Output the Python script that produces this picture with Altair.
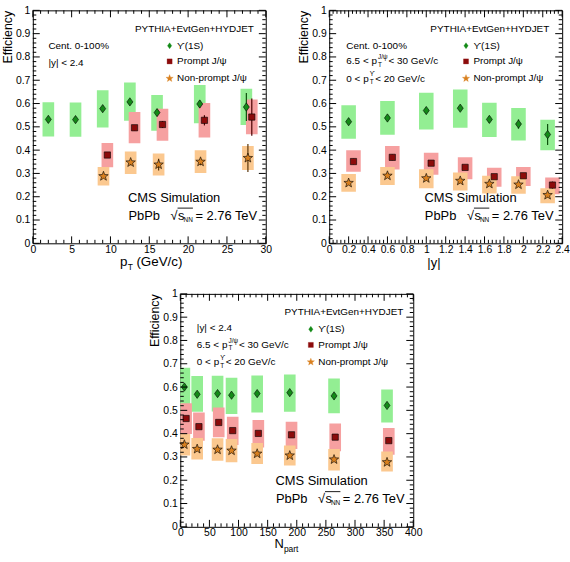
import altair as alt
import pandas as pd

FONT = "Liberation Sans"
W, H = 235, 235

# ---------------- efficiency vs pT ----------------
pt_ups_x    = [2.0, 5.5, 9.0, 12.5, 16.0, 21.5, 27.5]
pt_ups_eff  = [0.532, 0.531, 0.578, 0.607, 0.561, 0.598, 0.585]
pt_ups_stat = [0.008, 0.008, 0.010, 0.012, 0.015, 0.015, 0.060]
pt_ups_lo   = [0.458, 0.457, 0.497, 0.526, 0.483, 0.515, 0.508]
pt_ups_hi   = [0.606, 0.604, 0.657, 0.690, 0.637, 0.680, 0.664]

pt_pr_x     = [9.6, 13.1, 16.7, 22.1, 28.2]
pt_pr_eff   = [0.379, 0.496, 0.510, 0.528, 0.542]
pt_pr_stat  = [0.008, 0.012, 0.015, 0.022, 0.080]
pt_pr_lo    = [0.326, 0.429, 0.440, 0.454, 0.468]
pt_pr_hi    = [0.431, 0.564, 0.578, 0.602, 0.617]

pt_np_x     = [9.1, 12.6, 16.2, 21.6, 27.7]
pt_np_eff   = [0.288, 0.347, 0.338, 0.350, 0.366]
pt_np_stat  = [0.008, 0.012, 0.025, 0.015, 0.060]
pt_np_lo    = [0.248, 0.298, 0.291, 0.302, 0.315]
pt_np_hi    = [0.328, 0.394, 0.386, 0.399, 0.418]

# ---------------- efficiency vs |y| ----------------
y_ups_x    = [0.2, 0.6, 1.0, 1.35, 1.65, 1.95, 2.25]
y_ups_eff  = [0.522, 0.538, 0.570, 0.580, 0.532, 0.512, 0.467]
y_ups_stat = [0.010, 0.010, 0.012, 0.012, 0.015, 0.020, 0.045]
y_ups_lo   = [0.449, 0.466, 0.489, 0.496, 0.456, 0.441, 0.399]
y_ups_hi   = [0.593, 0.611, 0.646, 0.660, 0.603, 0.581, 0.530]

y_pr_x     = [0.25, 0.65, 1.05, 1.4, 1.7, 2.0, 2.3]
y_pr_eff   = [0.351, 0.369, 0.344, 0.326, 0.286, 0.290, 0.250]
y_pr_stat  = [0.012, 0.012, 0.010, 0.010, 0.008, 0.008, 0.015]
y_pr_lo    = [0.307, 0.317, 0.294, 0.275, 0.243, 0.246, 0.211]
y_pr_hi    = [0.399, 0.418, 0.389, 0.369, 0.324, 0.328, 0.283]

y_np_x     = [0.2, 0.6, 1.0, 1.35, 1.65, 1.95, 2.25]
y_np_eff   = [0.259, 0.290, 0.279, 0.268, 0.255, 0.252, 0.207]
y_np_stat  = [0.008, 0.008, 0.008, 0.008, 0.008, 0.008, 0.010]
y_np_lo    = [0.221, 0.250, 0.236, 0.227, 0.214, 0.213, 0.172]
y_np_hi    = [0.297, 0.328, 0.318, 0.304, 0.290, 0.288, 0.236]

# ---------------- efficiency vs Npart ----------------
np_ups_x    = [7, 29, 64, 88, 132, 188, 264, 355]
np_ups_eff  = [0.600, 0.569, 0.572, 0.565, 0.572, 0.576, 0.562, 0.521]
np_ups_stat = [0.008, 0.006, 0.006, 0.006, 0.006, 0.006, 0.006, 0.008]
np_ups_lo   = [0.486, 0.494, 0.495, 0.484, 0.491, 0.494, 0.488, 0.448]
np_ups_hi   = [0.683, 0.647, 0.649, 0.640, 0.650, 0.654, 0.637, 0.590]

np_pr_x     = [10, 32, 66, 90, 134, 191, 266, 358]
np_pr_eff   = [0.465, 0.430, 0.448, 0.413, 0.401, 0.395, 0.385, 0.370]
np_pr_stat  = [0.006] * 8
np_pr_lo    = [0.398, 0.370, 0.384, 0.351, 0.341, 0.334, 0.324, 0.309]
np_pr_hi    = [0.531, 0.491, 0.512, 0.472, 0.459, 0.451, 0.444, 0.424]

np_np_x     = [7, 29, 64, 88, 132, 188, 264, 355]
np_np_eff   = [0.353, 0.334, 0.331, 0.327, 0.314, 0.306, 0.289, 0.277]
np_np_stat  = [0.006] * 8
np_np_lo    = [0.306, 0.289, 0.284, 0.277, 0.270, 0.263, 0.242, 0.238]
np_np_hi    = [0.398, 0.381, 0.380, 0.377, 0.360, 0.349, 0.334, 0.323]

y_major = [0, 0.1, 0.2, 0.3, 0.4, 0.5, 0.6, 0.7, 0.8, 0.9, 1.0]
y_minor = [round(i * 0.02, 2) for i in range(51) if i % 5]

pt_major = [0, 5, 10, 15, 20, 25, 30]
pt_minor = [i for i in range(31) if i % 5]
rap_major = [round(i * 0.2, 1) for i in range(13)]
rap_minor = [round(i * 0.04, 2) for i in range(61) if i % 5]
npart_major = [i * 50 for i in range(9)]
npart_minor = [i * 10 for i in range(41) if i % 5]

# marker glyphs (unit box -1..1)
DIAMOND = "M0,-1L0.72,0L0,1L-0.72,0Z"
SQUARE = "M-1,-1L1,-1L1,1L-1,1Z"
STAR = ("M0,-1L0.247,-0.34L0.951,-0.309L0.399,0.13L0.588,0.809L0,0.42"
        "L-0.588,0.809L-0.399,0.13L-0.951,-0.309L-0.247,-0.34Z")

STYLE = {
    "ups": dict(box="#93ee93", fill="#138a17", err="#0b4f0b", shape=DIAMOND, size=70, lsize=36),
    "pr":  dict(box="#f6a0a0", fill="#8c0b0b", err="#4a0000", shape=SQUARE, size=40, lsize=26),
    "np":  dict(box="#fbc88f", fill="#d9801f", err="#5a3408", shape=STAR, size=100, lsize=60),
}

# approximate Helvetica advance widths (per 1000 em)
AW = {" ": 278, ".": 278, "<": 584, "p": 556, "T": 611, "G": 778, "e": 556, "V": 667,
      "/": 278, "c": 500, "J": 500, "ψ": 700, "ϒ": 700, "(": 333, ")": 333, "N": 722,
      "a": 556, "r": 333, "t": 278}


def tw(s, size):
    return sum(AW.get(ch, 556) for ch in s) * size / 1000.0


def txt(s, x, y, size=10, align="left"):
    return alt.Chart(pd.DataFrame({"t": [s]})).mark_text(
        font=FONT, fontSize=size, align=align, baseline="middle", color="black"
    ).encode(x=alt.value(x), y=alt.value(y), text="t:N")


def pt_range(x, y, lo, sup, hi):
    base = f"{lo} < p"
    x1 = x + tw(base, 10) + 1.0
    x2 = x1 + max(tw("T", 6.5), tw(sup, 6.5)) + 1.0
    return [txt(base, x, y), txt("T", x1, y + 3.5, 6.5), txt(sup, x1, y - 4.5, 6.5),
            txt(f" < {hi} GeV/c", x2, y)]


def energy_label(x, y):
    rule_df = pd.DataFrame({"a": [0]})
    over = alt.Chart(rule_df).mark_rule(color="black", strokeWidth=0.9).encode(
        x=alt.value(x + 49.5), x2=alt.value(x + 65), y=alt.value(y - 7.5))
    return [txt("PbPb", x, y, 13), txt("√", x + 42.5, y, 13), txt("s", x + 50, y, 13),
            txt("NN", x + 55.5, y + 4, 6.5), over, txt("= 2.76 TeV", x + 67.5, y, 13)]


def series_frame(xs, eff, stat, lo, hi, half):
    return pd.DataFrame({
        "x": xs, "eff": eff, "lo": lo, "hi": hi,
        "x0": [v - half for v in xs], "x1": [v + half for v in xs],
        "e0": [e - s for e, s in zip(eff, stat)], "e1": [e + s for e, s in zip(eff, stat)],
    })


def panel(series, xdom, major, minor, half, legend_x, legend_right, notes, xtitle):
    xs = alt.Scale(domain=xdom, nice=False, zero=False)
    ys = alt.Scale(domain=[0, 1], nice=False, zero=False)
    xaxis = alt.Axis(values=major, format="~r", ticks=False, domain=False, grid=False,
                     labelFont=FONT, labelFontSize=10.5, labelPadding=1, labelColor="black",
                     labelFlush=False, title=None)
    yaxis = alt.Axis(values=y_major, format="~r", ticks=False, domain=False, grid=False,
                     labelFont=FONT, labelFontSize=10.5, labelPadding=3, labelColor="black",
                     labelFlush=False, title="Efficiency", titleFont=FONT, titleFontSize=12.5,
                     titleFontWeight="normal", titleAnchor="end", titlePadding=1,
                     titleColor="black")

    frames = [(key, series_frame(*vals, half)) for key, vals in series]
    layers = []
    # systematic boxes first
    for key, df in frames:
        layers.append(alt.Chart(df).mark_rect(color=STYLE[key]["box"], clip=True).encode(
            x=alt.X("x0:Q", scale=xs, axis=xaxis), x2="x1:Q",
            y=alt.Y("lo:Q", scale=ys, axis=yaxis), y2="hi:Q"))
    # statistical error bars
    for key, df in frames:
        layers.append(alt.Chart(df).mark_rule(color=STYLE[key]["err"], strokeWidth=1.2).encode(
            x=alt.X("x:Q", scale=xs, axis=xaxis),
            y=alt.Y("e0:Q", scale=ys, axis=yaxis), y2="e1:Q"))
    # central values
    for key, df in frames:
        st = STYLE[key]
        layers.append(alt.Chart(df).mark_point(
            shape=st["shape"], filled=True, fill=st["fill"], stroke="black",
            strokeWidth=0.6, size=st["size"], opacity=1).encode(
            x=alt.X("x:Q", scale=xs, axis=xaxis),
            y=alt.Y("eff:Q", scale=ys, axis=yaxis)))

    # inward ticks on all four sides
    def xticks(vals, length):
        d = pd.DataFrame({"v": vals})
        base = alt.Chart(d).mark_rule(color="black", strokeWidth=1)
        return [base.encode(x=alt.X("v:Q", scale=xs, axis=xaxis),
                            y=alt.value(H), y2=alt.value(H - length)),
                base.encode(x=alt.X("v:Q", scale=xs, axis=xaxis),
                            y=alt.value(0), y2=alt.value(length))]

    def yticks(vals, length):
        d = pd.DataFrame({"v": vals})
        base = alt.Chart(d).mark_rule(color="black", strokeWidth=1)
        return [base.encode(y=alt.Y("v:Q", scale=ys, axis=yaxis),
                            x=alt.value(0), x2=alt.value(length)),
                base.encode(y=alt.Y("v:Q", scale=ys, axis=yaxis),
                            x=alt.value(W), x2=alt.value(W - length))]

    layers += xticks(major, 7) + xticks(minor, 3.5) + yticks(y_major, 7) + yticks(y_minor, 3.5)

    # legend block
    layers.append(txt("PYTHIA+EvtGen+HYDJET", legend_right, 18.7, 10, align="right"))
    rows = [("ups", "ϒ(1S)", 35.7), ("pr", "Prompt J/ψ", 51.5), ("np", "Non-prompt J/ψ", 68.7)]
    for key, label, ry in rows:
        st = STYLE[key]
        mk = alt.Chart(pd.DataFrame({"a": [0]})).mark_point(
            shape=st["shape"], filled=True, fill=st["fill"], stroke=st["fill"],
            strokeWidth=0.3, size=st["lsize"], opacity=1).encode(
            x=alt.value(legend_x), y=alt.value(ry))
        layers += [mk, txt(label, legend_x + 7.5, ry, 10)]

    layers += notes
    layers.append(txt("CMS Simulation", 96, 189, 13))
    layers += energy_label(96.5, 207)
    layers += xtitle
    return alt.layer(*layers).properties(width=W, height=H)


pt_panel = panel(
    [("ups", (pt_ups_x, pt_ups_eff, pt_ups_stat, pt_ups_lo, pt_ups_hi)),
     ("pr", (pt_pr_x, pt_pr_eff, pt_pr_stat, pt_pr_lo, pt_pr_hi)),
     ("np", (pt_np_x, pt_np_eff, pt_np_stat, pt_np_lo, pt_np_hi))],
    [0, 30], pt_major, pt_minor, 0.75, 138, 223,
    [txt("Cent. 0-100%", 15.7, 35.7), txt("|y| < 2.4", 15.7, 53)],
    [txt("p", 88, H + 19, 13.5), txt("T", 95.8, H + 23.5, 8.5),
     txt("(GeV/c)", 104.5, H + 19, 13.5)],
)

rap_panel = panel(
    [("ups", (y_ups_x, y_ups_eff, y_ups_stat, y_ups_lo, y_ups_hi)),
     ("pr", (y_pr_x, y_pr_eff, y_pr_stat, y_pr_lo, y_pr_hi)),
     ("np", (y_np_x, y_np_eff, y_np_stat, y_np_lo, y_np_hi))],
    [0, 2.4], rap_major, rap_minor, 0.075, 138, 222,
    [txt("Cent. 0-100%", 17.3, 35.7)]
    + pt_range(17.3, 51.5, "6.5", "J/ψ", "30")
    + pt_range(17.3, 69, "0", "ϒ", "20"),
    [txt("|y|", 99, H + 19.5, 13)],
)

npart_panel = panel(
    [("ups", (np_ups_x, np_ups_eff, np_ups_stat, np_ups_lo, np_ups_hi)),
     ("pr", (np_pr_x, np_pr_eff, np_pr_stat, np_pr_lo, np_pr_hi)),
     ("np", (np_np_x, np_np_eff, np_np_stat, np_np_lo, np_np_hi))],
    [0, 400], npart_major, npart_minor, 10, 131.7, 225,
    [txt("|y| < 2.4", 16.7, 34)]
    + pt_range(16.7, 51.6, "6.5", "J/ψ", "30")
    + pt_range(16.7, 69, "0", "ϒ", "20"),
    [txt("N", 95, H + 17.5, 13), txt("part", 104.5, H + 22, 8.5)],
)

top = alt.hconcat(pt_panel, rap_panel, spacing=24)
chart = alt.vconcat(top, npart_panel, spacing=16, center=True).configure_view(
    stroke="black", strokeWidth=1
).properties(padding={"left": 1, "top": 2, "right": 0, "bottom": 2}, background="white")

chart.save("out.html", embed_options={"renderer": "svg", "actions": False})
